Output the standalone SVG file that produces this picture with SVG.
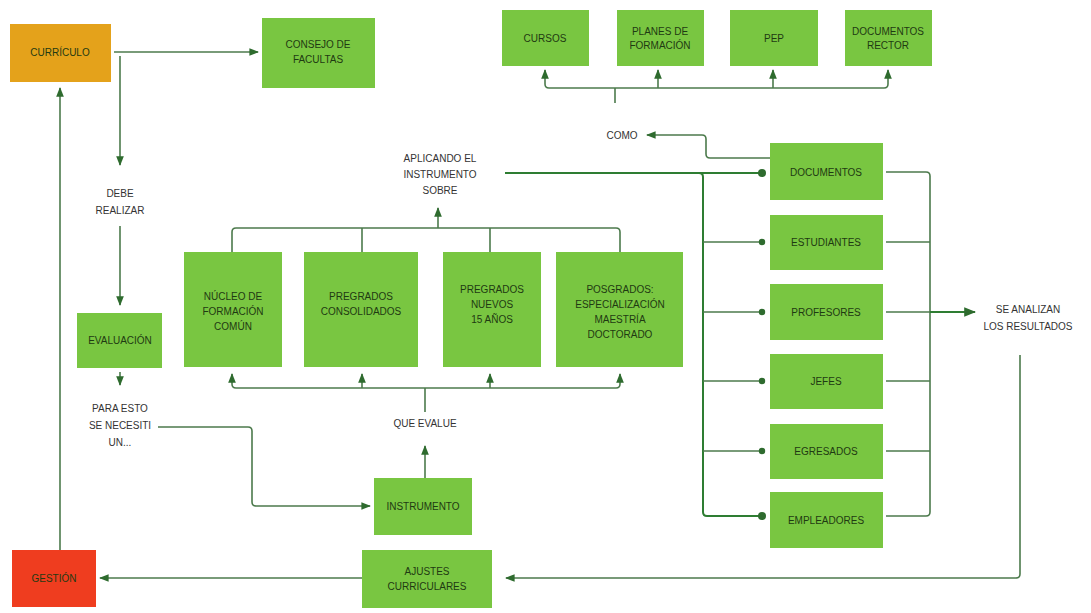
<svg xmlns="http://www.w3.org/2000/svg" width="1091" height="613" viewBox="0 0 1091 613">
<defs>
<style>
.box{fill:#79c641;}
.bt{font-family:"Liberation Sans",Arial,sans-serif;font-size:10px;fill:#1f3a12;text-anchor:middle;}
.lt{font-family:"Liberation Sans",Arial,sans-serif;font-size:10px;fill:#333;text-anchor:middle;}
.c{fill:none;stroke:#4c7a4c;stroke-width:1.6;}
.cd{fill:none;stroke:#2e7d32;stroke-width:2;}
</style>
<marker id="a" viewBox="0 0 10 10" refX="9" refY="5" markerWidth="6" markerHeight="6" orient="auto"><path d="M0,1 L10,5 L0,9 z" fill="#2e6b2e"/></marker>
<marker id="d" viewBox="0 0 10 10" refX="5" refY="5" markerWidth="5" markerHeight="5"><circle cx="5" cy="5" r="4" fill="#2e6b2e"/></marker>
</defs>
<rect width="1091" height="613" fill="#fff"/>
<g id="connectors">
<path class="c" d="M114,52 H258" marker-end="url(#a)"/>
<path class="c" d="M120,56 V165" marker-end="url(#a)"/>
<path class="c" d="M120,226 V305" marker-end="url(#a)"/>
<path class="c" d="M120,372 V385" marker-end="url(#a)"/>
<path class="c" d="M158,427 H248 Q252,427 252,431 V502 Q252,506 256,506 H370" marker-end="url(#a)"/>
<path class="c" d="M425,478 V446" marker-end="url(#a)"/>
<path class="c" d="M425,412 V388"/>
<path class="c" d="M236,388 H616"/>
<path class="c" d="M236,388 Q232,388 232,384 V374" marker-end="url(#a)"/>
<path class="c" d="M362,388 V374" marker-end="url(#a)"/>
<path class="c" d="M490,388 V374" marker-end="url(#a)"/>
<path class="c" d="M616,388 Q620,388 620,384 V374" marker-end="url(#a)"/>
<path class="c" d="M232,252 V232 Q232,228 236,228 H616 Q620,228 620,232 V252"/>
<path class="c" d="M362,252 V228"/>
<path class="c" d="M490,252 V228"/>
<path class="c" d="M438,228 V208" marker-end="url(#a)"/>
<path class="cd" d="M505,173 H762" marker-end="url(#d)"/>
<path class="cd" d="M699,173 Q703,173 703,177 V512 Q703,516 707,516 H762" marker-end="url(#d)"/>
<path class="c" d="M703,242 H762" marker-end="url(#d)"/>
<path class="c" d="M703,312 H762" marker-end="url(#d)"/>
<path class="c" d="M703,381 H762" marker-end="url(#d)"/>
<path class="c" d="M703,451 H762" marker-end="url(#d)"/>
<path class="c" d="M770,158 H710 Q706,158 706,154 V139 Q706,135 702,135 H647" marker-end="url(#a)"/>
<path class="c" d="M615,103 V88"/>
<path class="c" d="M549,88 H884"/>
<path class="c" d="M549,88 Q545,88 545,84 V70" marker-end="url(#a)"/>
<path class="c" d="M658,88 V70" marker-end="url(#a)"/>
<path class="c" d="M773,88 V70" marker-end="url(#a)"/>
<path class="c" d="M884,88 Q888,88 888,84 V70" marker-end="url(#a)"/>
<path class="c" d="M886,172 H926 Q930,172 930,176 V512 Q930,516 926,516 H886"/>
<path class="c" d="M886,242 H930"/>
<path class="c" d="M886,312 H930"/>
<path class="c" d="M886,381 H930"/>
<path class="c" d="M886,451 H930"/>
<path class="cd" d="M930,312 H975" marker-end="url(#a)"/>
<path class="c" d="M1020,355 V574 Q1020,578 1016,578 H506" marker-end="url(#a)"/>
<path class="c" d="M362,578 H100" marker-end="url(#a)"/>
<path class="c" d="M60,550 V88" marker-end="url(#a)"/>
</g>
<g id="curriculo"><rect x="10" y="24" width="101" height="58" fill="#e4a21b"/><text class="bt" x="60" y="56" fill="#4a2a00">CURRÍCULO</text></g>
<g id="consejo"><rect class="box" x="262" y="18" width="113" height="70"/><text class="bt" x="318" y="48">CONSEJO DE</text><text class="bt" x="318" y="63">FACULTAS</text></g>
<g id="cursos"><rect class="box" x="502" y="10" width="87" height="56"/><text class="bt" x="545" y="42">CURSOS</text></g>
<g id="planes"><rect class="box" x="617" y="10" width="87" height="56"/><text class="bt" x="660" y="35">PLANES DE</text><text class="bt" x="660" y="49">FORMACIÓN</text></g>
<g id="pep"><rect class="box" x="730" y="10" width="88" height="56"/><text class="bt" x="774" y="42">PEP</text></g>
<g id="rector"><rect class="box" x="845" y="10" width="87" height="56"/><text class="bt" x="888" y="35">DOCUMENTOS</text><text class="bt" x="888" y="49">RECTOR</text></g>
<g id="como"><text class="lt" x="622" y="139">COMO</text></g>
<g id="aplicando"><text class="lt" x="440" y="162">APLICANDO EL</text><text class="lt" x="440" y="178">INSTRUMENTO</text><text class="lt" x="440" y="194">SOBRE</text></g>
<g id="debe"><text class="lt" x="120" y="197">DEBE</text><text class="lt" x="120" y="214">REALIZAR</text></g>
<g id="evaluacion"><rect class="box" x="77" y="313" width="85" height="55"/><text class="bt" x="120" y="344">EVALUACIÓN</text></g>
<g id="paraesto"><text class="lt" x="120" y="412">PARA ESTO</text><text class="lt" x="120" y="429">SE NECESITI</text><text class="lt" x="120" y="446">UN...</text></g>
<g id="nucleo"><rect class="box" x="184" y="252" width="98" height="115"/><text class="bt" x="233" y="300">NÚCLEO DE</text><text class="bt" x="233" y="315">FORMACIÓN</text><text class="bt" x="233" y="330">COMÚN</text></g>
<g id="consolidados"><rect class="box" x="304" y="252" width="114" height="115"/><text class="bt" x="361" y="300">PREGRADOS</text><text class="bt" x="361" y="315">CONSOLIDADOS</text></g>
<g id="nuevos"><rect class="box" x="443" y="252" width="98" height="115"/><text class="bt" x="492" y="293">PREGRADOS</text><text class="bt" x="492" y="308">NUEVOS</text><text class="bt" x="492" y="323">15 AÑOS</text></g>
<g id="posgrados"><rect class="box" x="556" y="252" width="127" height="115"/><text class="bt" x="620" y="293">POSGRADOS:</text><text class="bt" x="620" y="308">ESPECIALIZACIÓN</text><text class="bt" x="620" y="323">MAESTRÍA</text><text class="bt" x="620" y="338">DOCTORADO</text></g>
<g id="queevalue"><text class="lt" x="425" y="427">QUE EVALUE</text></g>
<g id="instrumento"><rect class="box" x="374" y="478" width="98" height="57"/><text class="bt" x="423" y="510">INSTRUMENTO</text></g>
<g id="documentos"><rect class="box" x="770" y="143" width="113" height="57"/><text class="bt" x="826" y="176">DOCUMENTOS</text></g>
<g id="estudiantes"><rect class="box" x="770" y="215" width="113" height="55"/><text class="bt" x="826" y="246">ESTUDIANTES</text></g>
<g id="profesores"><rect class="box" x="770" y="284" width="113" height="56"/><text class="bt" x="826" y="316">PROFESORES</text></g>
<g id="jefes"><rect class="box" x="770" y="354" width="113" height="55"/><text class="bt" x="826" y="385">JEFES</text></g>
<g id="egresados"><rect class="box" x="770" y="424" width="113" height="55"/><text class="bt" x="826" y="455">EGRESADOS</text></g>
<g id="empleadores"><rect class="box" x="770" y="492" width="113" height="56"/><text class="bt" x="826" y="524">EMPLEADORES</text></g>
<g id="analizan"><text class="lt" x="1028" y="313">SE ANALIZAN</text><text class="lt" x="1028" y="330">LOS RESULTADOS</text></g>
<g id="ajustes"><rect class="box" x="362" y="550" width="130" height="58"/><text class="bt" x="427" y="575">AJUSTES</text><text class="bt" x="427" y="590">CURRICULARES</text></g>
<g id="gestion"><rect x="12" y="550" width="84" height="57" fill="#ef3d1f"/><text class="bt" x="54" y="582" fill="#3a0a00">GESTIÓN</text></g>
</svg>
